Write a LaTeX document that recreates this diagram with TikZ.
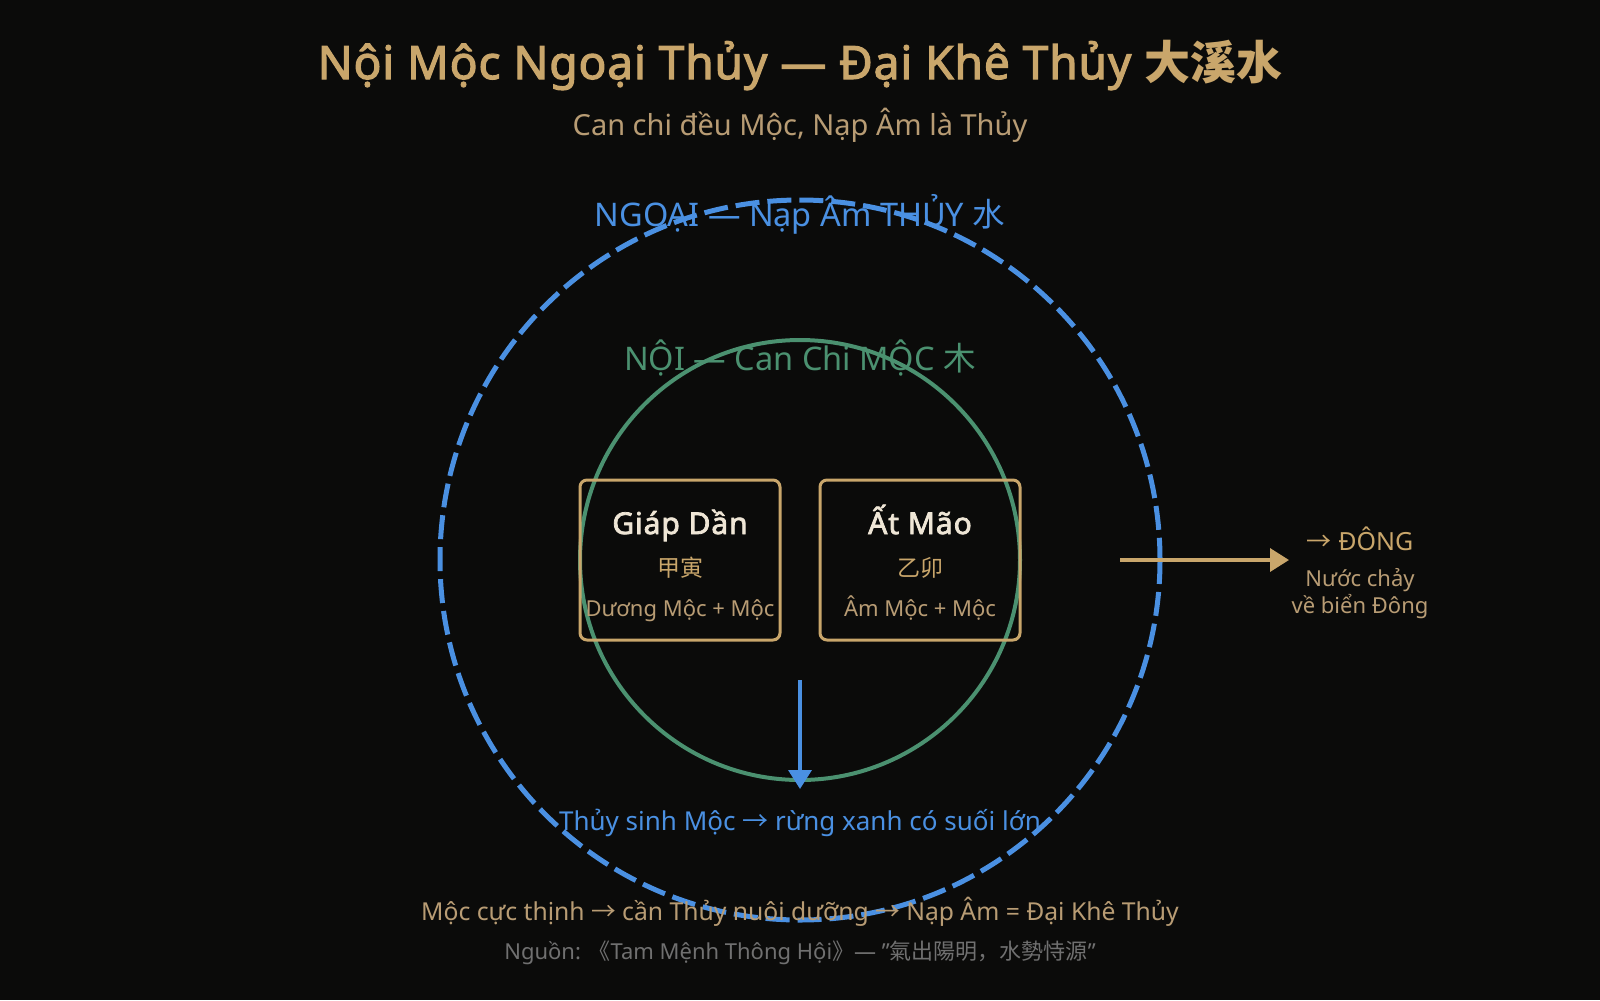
\documentclass[tikz,border=0pt]{standalone}
\usepackage{fontspec}
\setmainfont{Noto Sans}[BoldFont={Noto Sans}, BoldFeatures={FakeBold=2.5}]
\newfontfamily\cjk{Noto Sans CJK SC}
\usepackage{tikz}
\usetikzlibrary{arrows.meta}
\definecolor{ink}{HTML}{0B0B0A}
\definecolor{gold}{HTML}{C9A66B}
\definecolor{tan}{HTML}{B89C74}
\definecolor{cream}{HTML}{EFE6D6}
\definecolor{water}{HTML}{4A90E2}
\definecolor{wood}{HTML}{4B9170}
\definecolor{ash}{HTML}{707070}
\newcommand{\fsz}[1]{\fontsize{#1bp}{#1bp}\selectfont}
\newcommand{\ra}{{\cjk →}}

\begin{document}
\begin{tikzpicture}[x=1bp, y=-1bp,
    txt/.style={inner sep=0pt, anchor=base},
    cell/.style={draw=gold, line width=3bp, rounded corners=7bp, minimum width=200bp, minimum height=160bp},
    flow/.style={line width=3.5bp, -{Triangle[length=19bp,width=23bp]}}]
      \fill[ink] (0,0) rectangle (1600,1000);
      \useasboundingbox (0,0) rectangle (1600,1000);
      \node[txt, gold, font=\bfseries\fsz{46}\addfontfeature{LetterSpace=2}] (title) at (800,79) {Nội Mộc Ngoại Thủy — Đại Khê Thủy {\cjk 大溪水}};
      \node[txt, tan, font=\fsz{29}] (sub) at (800,135) {Can chi đều Mộc, Nạp Âm là Thủy};
      \coordinate (O) at (800,560);
      \draw[water, line width=5bp, dash pattern=on 24bp off 8bp] (O) circle [radius=360];
      \draw[wood, line width=4bp] (O) circle [radius=220];
      \node[txt, water, font=\fsz{32.5}] (ngoai) at (800,226) {NGOẠI — Nạp Âm THỦY {\cjk 水}};
      \node[txt, wood, font=\fsz{32.5}] (noi) at (800,370) {NỘI — Can Chi MỘC {\cjk 木}};
      \node[cell] (jia) at (680,560) {};
      \node[cell] (yi) at (920,560) {};
      \node[txt, cream, font=\bfseries\fsz{30}\addfontfeature{LetterSpace=3}] (jianame) at (680,534) {Giáp Dần};
      \node[txt, gold, font=\fsz{23}] (jiahan) at (680,576) {\cjk 甲寅};
      \node[txt, tan, font=\fsz{22}] (jiaxing) at (680,616) {Dương Mộc + Mộc};
      \node[txt, cream, font=\bfseries\fsz{30}\addfontfeature{LetterSpace=3}] (yiname) at (920,534) {Ất Mão};
      \node[txt, gold, font=\fsz{23}] (yihan) at (920,576) {\cjk 乙卯};
      \node[txt, tan, font=\fsz{22}] (yixing) at (920,616) {Âm Mộc + Mộc};
      \coordinate (eastfrom) at (1120,560);
      \coordinate (easttip) at (1289,560);
      \draw[flow, gold] (eastfrom) -- (easttip);
      \node[txt, gold, font=\fsz{25}] (dong) at (1360,550) {\ra{} ĐÔNG};
      \node[txt, tan, font=\fsz{22}] (nuoc) at (1360,586) {Nước chảy};
      \node[txt, tan, font=\fsz{22}] (bien) at (1360,613) {về biển Đông};
      \coordinate (downfrom) at (800,680);
      \coordinate (downtip) at (800,789);
      \draw[flow, water] (downfrom) -- (downtip);
      \node[txt, water, font=\fsz{26}] (sinh) at (800,830) {Thủy sinh Mộc \ra{} rừng xanh có suối lớn};
      \node[txt, tan, font=\fsz{24.7}] (note) at (800,920) {Mộc cực thịnh \ra{} cần Thủy nuôi dưỡng \ra{} Nạp Âm = Đại Khê Thủy};
      \node[txt, ash, font=\fsz{22}] (src) at (800,959) {Nguồn: {\cjk 《}Tam Mệnh Thông Hội{\cjk 》}— "{\cjk 氣出陽明，水勢恃源}"};
    \end{tikzpicture}
\end{document}
